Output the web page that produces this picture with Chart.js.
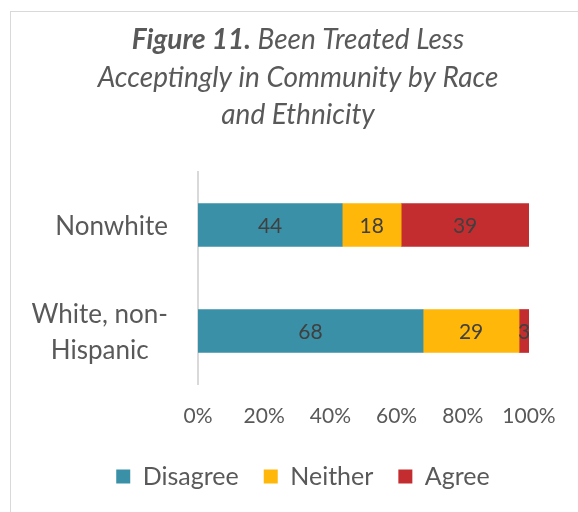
<!DOCTYPE html>
<html>
<head>
<meta charset="utf-8">
<script src="https://cdn.jsdelivr.net/npm/chart.js@4.4.1/dist/chart.umd.min.js"></script>
<style>
  html, body { margin: 0; padding: 0; background: #fff; }
  #wrap { position: relative; width: 578px; height: 512px; overflow: hidden; }
  #frame { position: absolute; left: 10px; top: 11px; width: 620px; height: 560px; border: 1px solid #d9d9d9; box-sizing: border-box; }
  canvas { position: absolute; left: 0; top: 0; }
</style>
</head>
<body>
<div id="wrap">
  <div id="frame"></div>
  <canvas id="raceChart" width="578" height="512"></canvas>
</div>
<script>
// Survey responses by group (percent of respondents)
const groups = ['Nonwhite', ['White, non-', 'Hispanic']];
const disagree = [44, 68];
const neither = [18, 29];
const agree = [39, 3];
const tickLabels = ['0%', '20%', '40%', '60%', '80%', '100%'];

const FONT = 'Lato, "Open Sans", sans-serif';
const GREY = '#595959';

// 100% stacked: each segment is its share of the row total
const totals = groups.map((_, i) => disagree[i] + neither[i] + agree[i]);
const share = arr => arr.map((v, i) => v / totals[i] * 100);

// Title with bold "Figure 11." lead-in
const titlePlugin = {
  id: 'figTitle',
  afterDraw(chart) {
    const ctx = chart.ctx;
    const cx = 298;
    ctx.save();
    ctx.fillStyle = GREY;
    ctx.textBaseline = 'alphabetic';
    const size = 28;
    const boldPart = 'Figure 11.';
    const restPart = ' Been Treated Less';
    ctx.font = `italic bold ${size}px ${FONT}`;
    const wb = ctx.measureText(boldPart).width;
    ctx.font = `italic ${size}px ${FONT}`;
    const wr = ctx.measureText(restPart).width;
    let x = cx - (wb + wr) / 2;
    ctx.font = `italic bold ${size}px ${FONT}`;
    ctx.textAlign = 'left';
    ctx.fillText(boldPart, x, 49);
    ctx.font = `italic ${size}px ${FONT}`;
    ctx.fillText(restPart, x + wb, 49);
    ctx.textAlign = 'center';
    ctx.fillText('Acceptingly in Community by Race', cx, 87);
    ctx.fillText('and Ethnicity', cx, 124);
    ctx.restore();
  }
};

// Category names, each multi-line block right-aligned but lines centred inside it
const groupLabels = {
  id: 'groupLabels',
  afterDraw(chart) {
    const ctx = chart.ctx;
    const yScale = chart.scales.y;
    const right = 168;
    const lineH = 36;
    ctx.save();
    ctx.font = `26px ${FONT}`;
    ctx.fillStyle = GREY;
    ctx.textAlign = 'center';
    ctx.textBaseline = 'middle';
    groups.forEach((g, i) => {
      const lines = Array.isArray(g) ? g : [g];
      const w = Math.max(...lines.map(l => ctx.measureText(l).width));
      const cx = right - w / 2;
      const cy = yScale.getPixelForValue(i) + 2;
      lines.forEach((l, k) => {
        ctx.fillText(l, cx, cy + (k - (lines.length - 1) / 2) * lineH);
      });
    });
    ctx.restore();
  }
};

// Raw values printed in the middle of each segment
const valueLabels = {
  id: 'valueLabels',
  afterDatasetsDraw(chart) {
    const ctx = chart.ctx;
    ctx.save();
    ctx.font = `21px ${FONT}`;
    ctx.fillStyle = '#404040';
    ctx.textAlign = 'center';
    ctx.textBaseline = 'middle';
    chart.data.datasets.forEach((ds, di) => {
      chart.getDatasetMeta(di).data.forEach((bar, i) => {
        const p = bar.getProps(['x', 'y', 'base'], true);
        ctx.fillText(ds.values[i], (p.x + p.base) / 2, p.y + 1);
      });
    });
    ctx.restore();
  }
};

const ctx = document.getElementById('raceChart').getContext('2d');
new Chart(ctx, {
  type: 'bar',
  data: {
    labels: groups,
    datasets: [
      { label: 'Disagree', values: disagree, data: share(disagree), backgroundColor: '#3990a7' },
      { label: 'Neither', values: neither, data: share(neither), backgroundColor: '#ffb70a' },
      { label: 'Agree', values: agree, data: share(agree), backgroundColor: '#c32d2f' }
    ]
  },
  options: {
    indexAxis: 'y',
    responsive: false,
    animation: false,
    barThickness: 43,
    layout: { padding: { top: 172, left: 77, right: 49, bottom: 13 } },
    scales: {
      x: {
        stacked: true,
        min: 0,
        max: 100,
        grid: { display: false, drawTicks: false },
        border: { display: false },
        ticks: {
          stepSize: 20,
          padding: 20,
          color: GREY,
          font: { family: FONT, size: 21 },
          callback: (v, i) => tickLabels[i]
        },
        afterFit: s => { s.height = 55; }
      },
      y: {
        stacked: true,
        grid: { display: false, drawTicks: false },
        border: { display: true, color: '#d9d9d9', width: 2 },
        ticks: { display: false },
        afterFit: s => { s.width = 121; }
      }
    },
    plugins: {
      legend: {
        position: 'bottom',
        labels: {
          boxWidth: 14,
          boxHeight: 14,
          padding: 25,
          color: GREY,
          font: { family: FONT, size: 25 }
        }
      },
      tooltip: { enabled: false }
    }
  },
  plugins: [titlePlugin, groupLabels, valueLabels]
});
</script>
</body>
</html>
